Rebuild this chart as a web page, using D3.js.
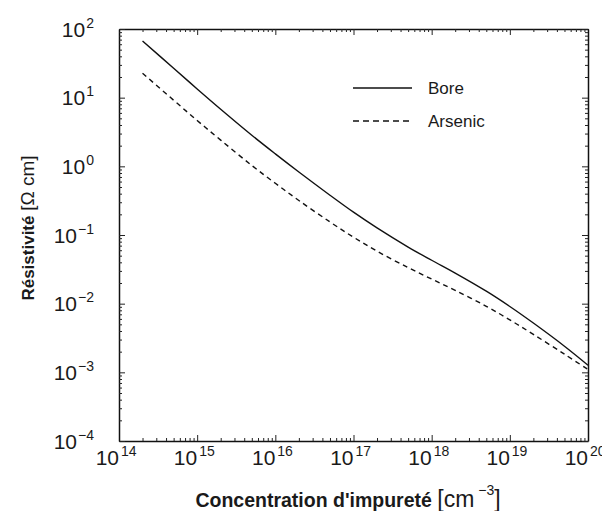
<!DOCTYPE html>
<html>
<head>
<meta charset="utf-8">
<script src="https://cdn.jsdelivr.net/npm/d3@7"></script>
<style>
  html, body { margin: 0; padding: 0; background: #fff; }
  svg { display: block; font-family: Arial, "Liberation Sans", sans-serif; }
</style>
</head>
<body>
<svg id="chart" width="602" height="511"></svg>
<script>
// ---- data ----
const concentrations = [2e14, 5e14, 1e15, 2e15, 5e15, 1e16, 2e16, 5e16, 1e17, 2e17, 5e17, 1e18, 2e18, 5e18, 1e19, 2e19, 5e19, 1e20];
const boreResistivity = [67.0, 26.8, 13.4, 6.79, 2.84, 1.52, 0.828, 0.380, 0.215, 0.127, 0.0668, 0.0429, 0.0279, 0.0152, 0.0091, 0.00522, 0.0024, 0.00127];
const arsenicResistivity = [22.7, 9.18, 4.65, 2.41, 1.03, 0.566, 0.318, 0.155, 0.0929, 0.0581, 0.0335, 0.0228, 0.01567, 0.00916, 0.00581, 0.00357, 0.00184, 0.0011];
const seriesNames = ["Bore", "Arsenic"];
const xDecades = [14, 15, 16, 17, 18, 19, 20];
const yDecades = [-4, -3, -2, -1, 0, 1, 2];
const xTitle = "Concentration d'impureté ";
const yTitle = "Résistivité ";

// ---- layout ----
const svg = d3.select("#chart");
const L = 119, R = 588, T = 29, B = 441;
const x = d3.scaleLog().domain([1e14, 1e20]).range([L, R]);
const y = d3.scaleLog().domain([1e-4, 1e2]).range([B, T]);
const ink = "#1a1a1a";

function allTicks(decs) {
  const t = [];
  for (let i = 0; i < decs.length; i++) {
    const d = decs[i];
    t.push(Math.pow(10, d));
    if (i < decs.length - 1) for (let m = 2; m <= 9; m++) t.push(m * Math.pow(10, d));
  }
  return t;
}
const isMajor = v => Math.abs(Math.log10(v) - Math.round(Math.log10(v))) < 1e-9;
const xt = allTicks(xDecades), yt = allTicks(yDecades);

function styleAxis(g, sign, vertical) {
  g.select(".domain").attr("stroke", "#111").attr("stroke-width", 1.5);
  g.selectAll(".tick line").attr("stroke", "#222").attr("stroke-width", 1)
    .each(function(d) {
      const len = isMajor(d) ? 6 : 3;
      if (vertical) d3.select(this).attr("x2", sign * len);
      else d3.select(this).attr("y2", sign * len);
    });
  g.selectAll(".tick text").remove();
}

svg.append("g").attr("transform", `translate(0,${B})`)
  .call(d3.axisBottom(x).tickValues(xt).tickSizeOuter(0).tickFormat(""))
  .call(g => styleAxis(g, -1, false));
svg.append("g").attr("transform", `translate(0,${T})`)
  .call(d3.axisTop(x).tickValues(xt).tickSizeOuter(0).tickFormat(""))
  .call(g => styleAxis(g, 1, false));
svg.append("g").attr("transform", `translate(${L},0)`)
  .call(d3.axisLeft(y).tickValues(yt).tickSizeOuter(0).tickFormat(""))
  .call(g => styleAxis(g, 1, true));
svg.append("g").attr("transform", `translate(${R},0)`)
  .call(d3.axisRight(y).tickValues(yt).tickSizeOuter(0).tickFormat(""))
  .call(g => styleAxis(g, -1, true));

// x tick labels
xDecades.forEach(d => {
  const px = x(Math.pow(10, d));
  svg.append("text").attr("x", px).attr("y", 465).attr("text-anchor", "end")
    .attr("font-size", 21).attr("fill", ink).text("10");
  svg.append("text").attr("x", px + 2).attr("y", 456)
    .attr("font-size", 14).attr("fill", ink).text(String(d).replace("-", "\u2212"));
});
// y tick labels
yDecades.forEach(d => {
  const py = y(Math.pow(10, d));
  const t = svg.append("text").attr("x", 94).attr("y", py + 7.5).attr("text-anchor", "end")
    .attr("font-size", 21).attr("fill", ink);
  t.append("tspan").text("10");
  t.append("tspan").attr("dy", -9).attr("font-size", 14).attr("dx", 1).text(String(d).replace("-", "\u2212"));
});

// axis titles
const xt_ = svg.append("text").attr("x", 348).attr("y", 507).attr("text-anchor", "middle").attr("fill", ink);
xt_.append("tspan").attr("font-size", 19.5).attr("font-weight", "bold").text(xTitle);
xt_.append("tspan").attr("font-size", 23).text("[cm");
xt_.append("tspan").attr("font-size", 14).attr("dy", -12).text(" \u22123");
xt_.append("tspan").attr("font-size", 23).attr("dy", 12).text("]");

const yt_ = svg.append("text").attr("transform", "translate(34,228) rotate(-90)")
  .attr("text-anchor", "middle").attr("fill", ink);
yt_.append("tspan").attr("font-size", 17).attr("font-weight", "bold").text(yTitle);
yt_.append("tspan").attr("font-size", 19).text("[\u03A9 cm]");

// curves
const line = d3.line().x(d => x(d[0])).y(d => y(d[1])).curve(d3.curveCatmullRom.alpha(0.5));
const series = [
  { name: seriesNames[0], values: boreResistivity, dash: null },
  { name: seriesNames[1], values: arsenicResistivity, dash: "5,4" }
];
series.forEach(s => {
  svg.append("path").datum(concentrations.map((c, i) => [c, s.values[i]]))
    .attr("d", line).attr("fill", "none").attr("stroke", "#111")
    .attr("stroke-width", 1.4).attr("stroke-dasharray", s.dash);
});

// legend
series.forEach((s, i) => {
  const ly = 88 + i * 33;
  svg.append("line").attr("x1", 353).attr("x2", 412).attr("y1", ly).attr("y2", ly)
    .attr("stroke", "#111").attr("stroke-width", 1.3).attr("stroke-dasharray", s.dash ? "6,4" : null);
  svg.append("text").attr("x", 428).attr("y", ly + 5.5).attr("font-size", 17)
    .attr("fill", ink).text(s.name);
});
</script>
</body>
</html>
